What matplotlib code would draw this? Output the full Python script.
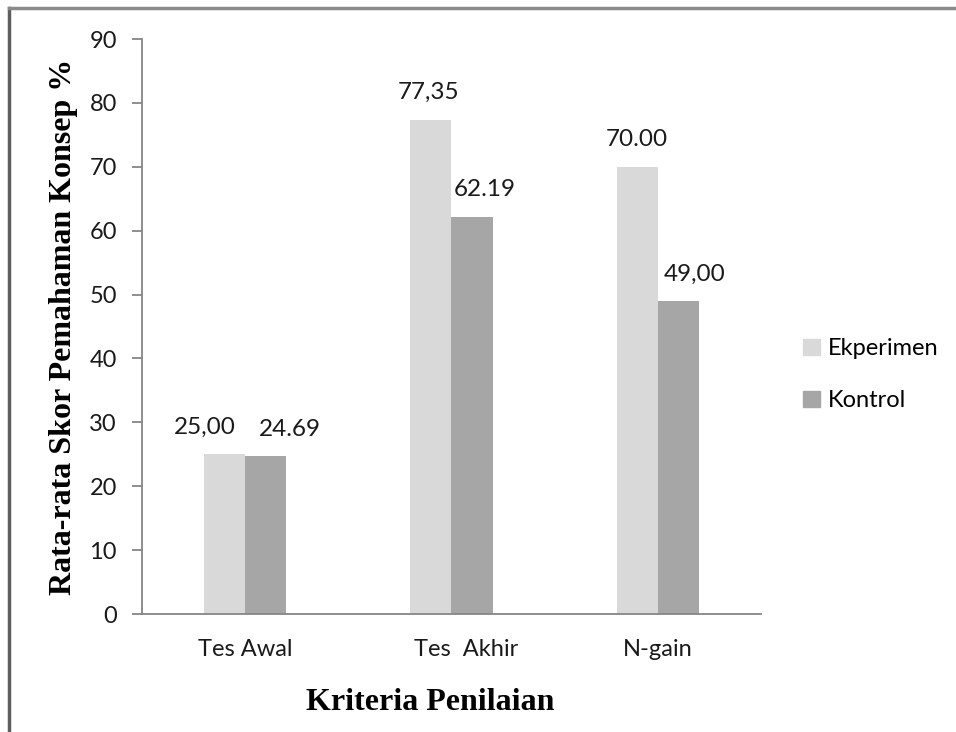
import matplotlib.pyplot as plt
import matplotlib.transforms as mtransforms
import numpy as np
from matplotlib.lines import Line2D
from matplotlib.patches import Patch

categories = ['Tes Awal', 'Tes  Akhir', 'N-gain']
ekperimen = [25.00, 77.35, 70.00]
kontrol = [24.69, 62.19, 49.00]
ekperimen_labels = ['25,00', '77,35', '70.00']
kontrol_labels = ['24.69', '62.19', '49,00']
# hand-placed label offsets (pixels) as in the original
ekperimen_dx = [-20, -2, 0]
kontrol_dx = [24, 13, 16]
category_dx = [0, 15, 0]

sans = 'Lato'
serif = 'Liberation Serif'
axis_col = '#868686'

fig = plt.figure(figsize=(9.56, 7.32), dpi=100)
ax = fig.add_axes([0.1485, 0.1612, 0.6475, 0.7855])

x = np.arange(len(categories))
w = 0.2
b1 = ax.bar(x - w / 2, ekperimen, w, color='#D9D9D9', label='Ekperimen')
b2 = ax.bar(x + w / 2, kontrol, w, color='#A6A6A6', label='Kontrol')

for rect, lab, dx in zip(b1, ekperimen_labels, ekperimen_dx):
    ax.annotate(lab, (rect.get_x() + rect.get_width() / 2, rect.get_height()),
                xytext=(dx, 27), textcoords='offset pixels', ha='center', va='center',
                fontsize=17.5, family=sans, color='#1a1a1a')
for rect, lab, dx in zip(b2, kontrol_labels, kontrol_dx):
    ax.annotate(lab, (rect.get_x() + rect.get_width() / 2, rect.get_height()),
                xytext=(dx, 27), textcoords='offset pixels', ha='center', va='center',
                fontsize=17.5, family=sans, color='#1a1a1a')

ax.set_xlim(-0.5, 2.5)
ax.set_ylim(0, 90)
ax.set_yticks(range(0, 91, 10))
ax.set_xticks(x)
ax.set_xticklabels(categories, family=sans, fontsize=17)
for t in ax.get_yticklabels():
    t.set_family(sans)
    t.set_fontsize(17)

for s in ['top', 'right']:
    ax.spines[s].set_visible(False)
for s in ['left', 'bottom']:
    ax.spines[s].set_color(axis_col)
    ax.spines[s].set_linewidth(1.3)
ax.tick_params(axis='y', length=7, width=1.3, color=axis_col, pad=11, labelcolor='#1a1a1a')
ax.tick_params(axis='x', length=0, pad=18, labelcolor='#1a1a1a')

# nudge the middle category label (tick_params resets transforms, so do it after)
for t, dx in zip(ax.get_xticklabels(), category_dx):
    shift = mtransforms.ScaledTranslation(dx / 100, 0, fig.dpi_scale_trans)
    t.set_transform(t.get_transform() + shift)

ax.set_ylabel('Rata-rata Skor Pemahaman Konsep %', family=serif, fontweight='bold',
              fontsize=23, labelpad=8)
ax.set_xlabel('Kriteria Penilaian', family=serif, fontweight='bold', fontsize=23, labelpad=20)
ax.xaxis.label.set_x(0.465)

leg = fig.legend(handles=[Patch(color='#D9D9D9', label='Ekperimen'),
                          Patch(color='#A6A6A6', label='Kontrol')],
                 loc='center left', bbox_to_anchor=(0.818, 0.488), frameon=False,
                 prop={'family': sans, 'size': 17}, handlelength=0.7, handleheight=0.7,
                 handletextpad=0.35, labelspacing=1.3)

# grey frame on the top and left edge of the picture
fig.add_artist(Line2D([0.009, 0.009], [0, 0.989], transform=fig.transFigure,
                      color='#5e5e5e', lw=2.5))
fig.add_artist(Line2D([0.009, 1.0], [0.989, 0.989], transform=fig.transFigure,
                      color='#8a8a8a', lw=2.5))

fig.savefig('out.png', dpi=100)
